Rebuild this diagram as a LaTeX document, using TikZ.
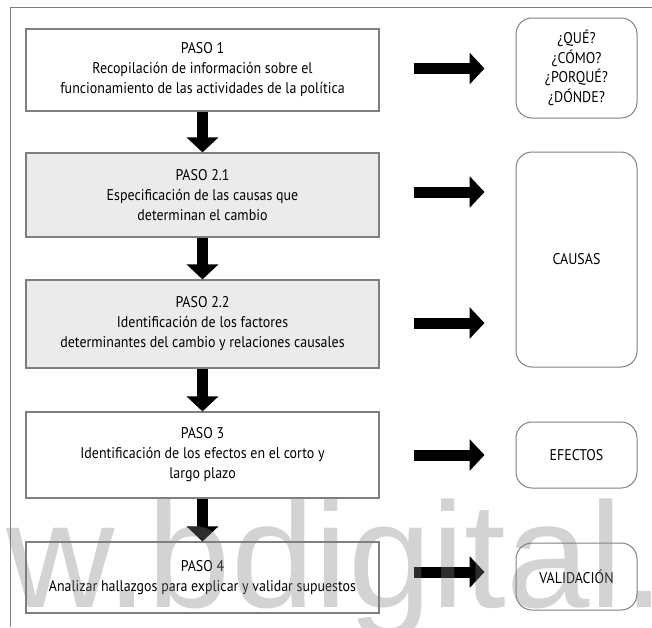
\documentclass[tikz,border=0pt]{standalone}
\usepackage{fontspec}
\setmainfont{PT Sans}[FakeStretch=0.9]
\newfontfamily\markfont{Liberation Sans}
\usetikzlibrary{arrows.meta}

\definecolor{edgegray}{HTML}{7F7F7F}
\definecolor{stepfill}{HTML}{EBEBEB}

\begin{document}
\begin{tikzpicture}[x=1pt,y=-1pt,
  every node/.style={inner sep=0pt},
  stepbox/.style={draw=edgegray, line width=1.2pt, minimum width=353pt,
    align=center, font=\fontsize{15.5}{20}\selectfont},
  shaded/.style={fill=stepfill},
  tagbox/.style={draw=edgegray, line width=1pt, rounded corners=16pt,
    minimum width=121pt, align=center, font=\fontsize{15.5}{19.5}\selectfont},
  blockarrow/.style={line width=11pt, -{Triangle[length=15pt,width=31pt]}},
  sidearrow/.style={blockarrow, shorten <=34pt, shorten >=31pt},
]
\useasboundingbox (0,0) rectangle (652,627);

% page frame
\draw[edgegray, line width=1pt] (652,7) -- (10,7) -- (10,627);

% process steps
\node[stepbox, minimum height=82pt] (b1) at (202.5,70)
  {PASO 1\\Recopilación de información sobre el\\funcionamiento de las actividades de la política};
\node[stepbox, shaded, minimum height=84pt] (b21) at (202.5,195)
  {PASO 2.1\\Especificación de las causas que\\determinan el cambio};
\node[stepbox, shaded, minimum height=88pt] (b22) at (202.5,324)
  {PASO 2.2\\Identificación de los factores\\determinantes del cambio y relaciones causales};
\node[stepbox, minimum height=86pt] (b3) at (202.5,455)
  {PASO 3\\Identificación de los efectos en el corto y\\largo plazo};
\node[stepbox, minimum height=71pt] (b4) at (202.5,577.5)
  {PASO 4\\Analizar hallazgos para explicar y validar supuestos};

% outcome tags
\node[tagbox, minimum height=100pt] (q) at (576.5,68)
  {¿QUÉ?\\¿CÓMO?\\¿PORQUÉ?\\¿DÓNDE?};
\node[tagbox, minimum height=215pt] (causas) at (576.5,259.5) {CAUSAS};
\node[tagbox, minimum height=66pt] (efectos) at (576.5,455) {EFECTOS};
\node[tagbox, minimum height=67pt] (valid) at (576.5,576.5) {VALIDACIÓN};

% flow between steps
\draw[blockarrow] (b1.south) -- (b21.north);
\draw[blockarrow] (b21.south) -- (b22.north);
\draw[blockarrow] (b22.south) -- (b3.north);
\draw[blockarrow] (b3.south) -- (b4.north);

% steps to outcomes
\draw[sidearrow] ([yshift=1.5pt]b1.east) -- ([yshift=1.5pt]b1.east -| q.west);
\draw[sidearrow] ([yshift=3pt]b21.east) -- ([yshift=3pt]b21.east -| causas.west);
\draw[sidearrow] ([yshift=1pt]b22.east) -- ([yshift=1pt]b22.east -| causas.west);
\draw[sidearrow] (b3.east) -- (b3.east -| efectos.west);
\draw[sidearrow] ([yshift=5.5pt]b4.east) -- ([yshift=5.5pt]b4.east -| valid.west);

% repository mark
\node[anchor=base west, font=\markfont\fontsize{150}{150}\selectfont,
  text=gray, text opacity=0.35] (mark) at (6,607) {w.bdigital.};
\end{tikzpicture}
\end{document}
